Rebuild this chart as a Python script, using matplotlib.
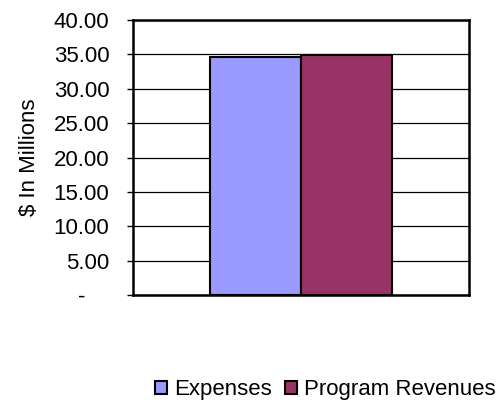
import matplotlib
matplotlib.use("Agg")
import matplotlib.pyplot as plt
from matplotlib.ticker import FuncFormatter

series = ["Expenses", "Program Revenues"]
values = [34.6, 34.85]
colors = ["#9999FF", "#993366"]
yticks = [0, 5, 10, 15, 20, 25, 30, 35, 40]

plt.rcParams['font.family'] = ['Liberation Sans', 'DejaVu Sans']

fig = plt.figure(figsize=(5.01, 4.0), dpi=100)
ax = fig.add_axes([0.2655, 0.2625, 0.6705, 0.6875])

width = 0.271
offsets = [-width / 2, width / 2]
for name, v, c, off in zip(series, values, colors, offsets):
    ax.bar(off, v, width=width, color=c, edgecolor='black', linewidth=1.5,
           label=name, zorder=3)

ax.set_xlim(-0.5, 0.5)
ax.set_ylim(0, 40)
ax.set_yticks(yticks)
ax.yaxis.set_major_formatter(FuncFormatter(lambda v, p: "-    " if v == 0 else f"{v:.2f}"))
ax.set_xticks([])
ax.grid(axis='y', color='black', linewidth=0.9, zorder=0)
ax.set_axisbelow(True)
for s in ax.spines.values():
    s.set_linewidth(1.8)
    s.set_color('black')
ax.tick_params(axis='y', direction='out', length=4, width=1, labelsize=16, pad=13)
ax.set_ylabel("$ In Millions", fontsize=16, labelpad=10)

leg = fig.legend(loc='center left', bbox_to_anchor=(0.309, 1 - 390 / 400), ncol=2,
                 frameon=False, fontsize=16, handlelength=0.55, handleheight=0.55,
                 handletextpad=0.3, columnspacing=0.6, borderpad=0, borderaxespad=0)

fig.savefig("out.png", dpi=100)
